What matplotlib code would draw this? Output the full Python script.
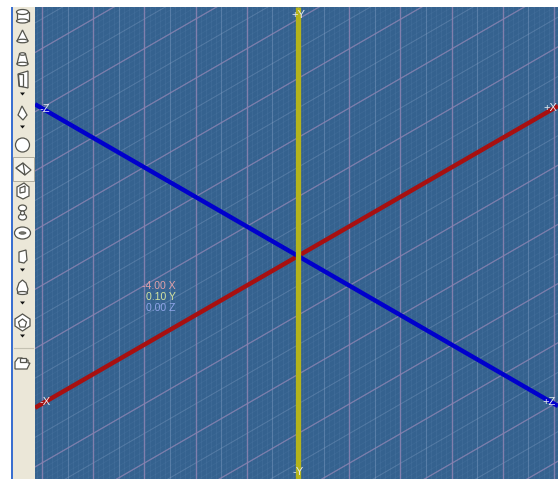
import numpy as np
import matplotlib
matplotlib.use("Agg")
import matplotlib.pyplot as plt
from matplotlib.patches import Rectangle, Ellipse, Polygon

W, H = 558, 479
VIEW_LEFT, VIEW_TOP = 35, 7
CENTER = (298, 256)
SLOPE = 0.577
V_STEP = 51.2
D_STEP = 59.2

axis_names = ["X", "Z"]
axis_colors = ["#a81010", "#0000cc"]
axis_slopes = [-SLOPE, SLOPE]
axis_labels = [("-Z", 45, 109), ("+X", 550, 108), ("+Y", 298, 15),
               ("-X", 45, 402), ("+Z", 549, 402), ("-Y", 298, 472)]
readout_text = ["-4.00 X", "0.10 Y", "0.00 Z"]
readout_colors = ["#e0a0a8", "#d4e4a0", "#8fa4e8"]
readout_y = [286, 297, 308]

fig = plt.figure(figsize=(W / 100, H / 100), dpi=100, facecolor="white")
ax = fig.add_axes([0, 0, 1, 1])
ax.set_xlim(0, W)
ax.set_ylim(H, 0)
ax.axis("off")
plt.rcParams["font.family"] = ["Liberation Sans", "DejaVu Sans"]

ax.add_patch(Rectangle((11, 7), 1.6, H - 7, color="#3a6fd0", lw=0, zorder=1))
ax.add_patch(Rectangle((12.6, 7), VIEW_LEFT - 12.6, H - 7, color="#ebe7d8", lw=0, zorder=1))
ax.add_patch(Rectangle((VIEW_LEFT, VIEW_TOP), W - VIEW_LEFT, H - VIEW_TOP,
                       color="#35628f", lw=0, zorder=1))

view = Rectangle((VIEW_LEFT, VIEW_TOP), W - VIEW_LEFT, H - VIEW_TOP, transform=ax.transData)


def vlines(step, color, lw, alpha, z):
    k = np.arange(-70, 70)
    for x in CENTER[0] + k * step:
        ln, = ax.plot([x, x], [VIEW_TOP, H], color=color, lw=lw, alpha=alpha, zorder=z)
        ln.set_clip_path(view)


def dlines(step, color, lw, alpha, z):
    k = np.arange(-80, 80)
    xs = np.array([VIEW_LEFT, W])
    for off in k * step:
        ln, = ax.plot(xs, CENTER[1] - SLOPE * (xs - CENTER[0]) + off, color=color, lw=lw,
                      alpha=alpha, zorder=z)
        ln.set_clip_path(view)


vlines(V_STEP / 10, "#7fa6cc", 0.6, 0.12, 2)
dlines(D_STEP / 10, "#7fa6cc", 0.6, 0.10, 2)
vlines(V_STEP / 2, "#9fb4d6", 0.8, 0.28, 3)
dlines(D_STEP / 2, "#9fb4d6", 0.8, 0.22, 3)
vlines(V_STEP, "#8f80b0", 1.0, 0.75, 4)
dlines(D_STEP, "#8f80b0", 0.9, 0.70, 4)

xs = np.array([VIEW_LEFT, W])
for name, col, sl in zip(axis_names, axis_colors, axis_slopes):
    ln, = ax.plot(xs, CENTER[1] + sl * (xs - CENTER[0]), color=col, lw=3.2,
                  solid_capstyle="butt", zorder=6)
    ln.set_clip_path(view)
ax.plot([CENTER[0], CENTER[0]], [VIEW_TOP, H], color="#b4b41c", lw=3.8,
        solid_capstyle="butt", zorder=7)

for t, x, y in axis_labels:
    ax.text(x, y, t, color="#e4eaf0", fontsize=8, ha="center", va="center", zorder=9)
for t, c, y in zip(readout_text, readout_colors, readout_y):
    ax.text(176, y, t, color=c, fontsize=7.6, ha="right", va="center", zorder=9)

E = "#55554e"
F = "#ffffff"
KW = dict(edgecolor=E, facecolor=F, lw=0.9, zorder=8)
ax.add_patch(Rectangle((12.6, 157), 21, 24, facecolor="#f2efe4", edgecolor="#b0ad9f", lw=0.7, zorder=5))


def poly(*pts):
    ax.add_patch(Polygon(pts, closed=True, **KW))


def ell(x, y, w, h):
    ax.add_patch(Ellipse((x, y), w, h, **KW))


def arrow(y):
    ax.add_patch(Polygon([(20, y - 1.5), (25, y - 1.5), (22.5, y + 1.5)], color="#111111", lw=0, zorder=8))


ax.add_patch(Rectangle((16.5, 12), 12, 9, **KW)); ell(22.5, 21, 12, 4); ell(22.5, 12, 12, 5)
poly((22.5, 30), (17, 41), (28, 41)); ell(22.5, 41, 11, 3.5)
poly((19.5, 54), (25.5, 54), (28, 64), (17, 64)); ell(22.5, 64, 11, 3.5); ell(22.5, 54, 6, 2.5)
poly((18, 74), (28, 71), (28, 88), (19, 86)); poly((18, 74), (23, 74), (23, 86), (19, 86))
arrow(94)
poly((22, 106), (27, 115), (23, 120), (18, 115))
arrow(127)
ell(22.5, 145, 14, 14)
poly((23, 163), (31, 170), (25, 175), (16, 168)); poly((23, 163), (25, 175), (16, 168))
poly((17, 187), (24, 183), (29, 187), (29, 196), (23, 199), (17, 196)); poly((20, 188), (25, 186), (25, 192), (20, 193))
ell(22.5, 208, 8, 6); ell(22.5, 217, 8, 6); ell(22.5, 213, 4, 4)
ell(22.5, 233, 16, 12)
ax.add_patch(Ellipse((22.5, 233), 7, 2.5, facecolor="#777770", edgecolor=E, lw=0.5, zorder=9))
poly((19, 252), (26, 250), (27, 260), (24, 263), (19, 262))
arrow(270)
poly((18, 293), (17, 289), (19, 283), (22.5, 280), (26, 283), (28, 289), (27, 293)); ell(22.5, 293, 10, 3)
arrow(303)
poly((22.5, 314), (30, 319), (30, 326), (22.5, 331), (15, 326), (15, 319))
poly((22.5, 319), (26.5, 322), (25, 327), (20, 327), (18.5, 322))
arrow(336)
ax.plot([13.5, 33], [347.5, 347.5], color="#c4c1b2", lw=0.8, zorder=8)
poly((15, 362), (18, 358), (22, 358), (23, 360), (28, 360), (28, 363), (30, 363), (27, 369), (15, 369))
poly((20, 358), (26, 358), (26, 362), (20, 362))

fig.savefig("out.png", dpi=100, facecolor="white")
